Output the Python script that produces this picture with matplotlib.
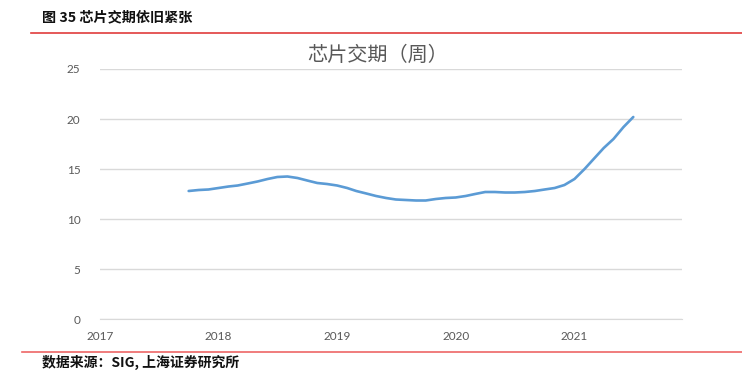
import pandas as pd
import matplotlib.pyplot as plt
from matplotlib.lines import Line2D

plt.rcParams['font.family'] = ['Lato', 'Noto Sans CJK SC', 'DejaVu Sans']

# 月度数据: 2017-10 到 2021-07
months = pd.date_range('2017-10-01', '2021-07-01', freq='MS')
lead_time = [12.8, 12.9, 12.95, 13.1, 13.25, 13.35, 13.55, 13.75, 14.0, 14.2,
             14.25, 14.1, 13.85, 13.6, 13.5, 13.35, 13.1, 12.8, 12.55, 12.3,
             12.1, 11.95, 11.9, 11.85, 11.85, 12.0, 12.1, 12.15, 12.3, 12.5,
             12.7, 12.7, 12.65, 12.65, 12.7, 12.8, 12.95, 13.1, 13.4, 14.0,
             15.0, 16.0, 17.1, 18.0, 19.2, 20.2]
year_labels = ['2017', '2018', '2019', '2020', '2021']
y_ticks = [0, 5, 10, 15, 20, 25]

fig = plt.figure(figsize=(7.42, 3.83), dpi=100)
ax = fig.add_axes([100 / 742, 1 - 319 / 383, 582 / 742, 250 / 383])

ax.plot(months, lead_time, color='#5b9bd5', lw=1.9, solid_capstyle='round')

ax.set_ylim(0, 25)
ax.set_yticks(y_ticks)
ax.set_xlim(pd.Timestamp('2017-01-01'), pd.Timestamp('2021-11-28'))
ax.set_xticks([pd.Timestamp(y + '-01-01') for y in year_labels])
ax.set_xticklabels(year_labels)
ax.grid(axis='y', color='#d9d9d9', lw=1)
ax.set_axisbelow(True)
for s in ['top', 'right', 'left']:
    ax.spines[s].set_visible(False)
ax.spines['bottom'].set_color('#d9d9d9')
ax.tick_params(length=0, labelsize=8.5, labelcolor='#595959')
ax.tick_params(axis='y', pad=14)
ax.tick_params(axis='x', pad=9)

fig.text(378 / 742, 1 - 55 / 383, '芯片交期（周）', ha='center', va='center',
         fontsize=14.5, color='#595959', family=['Noto Sans CJK SC'])
fig.text(42 / 742, 1 - 17 / 383, '图 35 芯片交期依旧紧张', ha='left', va='center',
         fontsize=10.2, fontweight='bold', color='#111111', family=['Noto Sans CJK SC'])
fig.text(42 / 742, 1 - 362 / 383, '数据来源：SIG, 上海证券研究所', ha='left', va='center',
         fontsize=10, fontweight='bold', style='italic', color='#111111',
         family=['Noto Sans CJK SC', 'DejaVu Sans'])

fig.add_artist(Line2D([31 / 742, 1], [1 - 33 / 383] * 2, color='#e03c3c', lw=1.2))
fig.add_artist(Line2D([22 / 742, 1], [1 - 352 / 383] * 2, color='#ee6666', lw=1.2))

fig.savefig('out.png', dpi=100)
